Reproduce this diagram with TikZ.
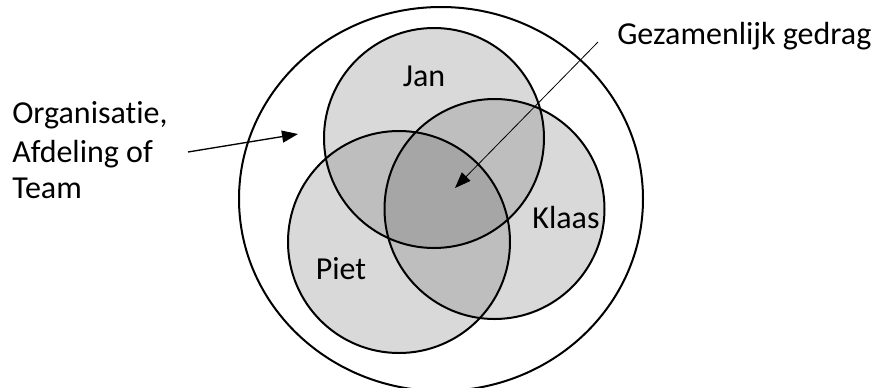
\documentclass[tikz,border=0pt]{standalone}
\usepackage{fontspec}
\setmainfont{Carlito}[Ligatures={NoCommon}]
\usetikzlibrary{arrows.meta,shapes.geometric}
\definecolor{gone}{HTML}{D9D9D9}
\definecolor{gtwo}{HTML}{BEBEBE}
\definecolor{gthree}{HTML}{A6A6A6}
\begin{document}
\begin{tikzpicture}[x=0.75pt,y=-0.75pt,
  person/.style={circle,draw=black,line width=1.5pt,inner sep=0pt},
  outer/.style={ellipse,draw=black,line width=1.5pt,inner sep=0pt,minimum width=303pt,minimum height=288pt},
  lbl/.style={font=\fontsize{24}{29}\selectfont,inner sep=0pt},
  arr/.style={-{Triangle[length=12pt,width=9pt]},line width=0.8pt}]
\useasboundingbox (0,0) rectangle (872,387);
\node[outer] (org) at (441,199) {};
\coordinate (cj) at (434,138);
\coordinate (ck) at (494.5,209);
\coordinate (cp) at (399,242);
% fills
\fill[gone] (cj) circle[radius=82.5pt] (ck) circle[radius=82.5pt] (cp) circle[radius=83.25pt];
\begin{scope}
  \clip (cj) circle[radius=82.5pt];
  \fill[gtwo] (ck) circle[radius=82.5pt] (cp) circle[radius=83.25pt];
\end{scope}
\begin{scope}
  \clip (ck) circle[radius=82.5pt];
  \fill[gtwo] (cp) circle[radius=83.25pt];
\end{scope}
\begin{scope}
  \clip (cj) circle[radius=82.5pt];
  \clip (ck) circle[radius=82.5pt];
  \fill[gthree] (cp) circle[radius=83.25pt];
\end{scope}
% outlines
\node[person,minimum size=165pt] (jan) at (cj) {};
\node[person,minimum size=165pt] (klaas) at (ck) {};
\node[person,minimum size=166.5pt] (piet) at (cp) {};
\node[lbl,anchor=base] (janlbl) at (424,86) {Jan};
\node[lbl,anchor=base] (klaaslbl) at (566,228) {Klaas};
\node[lbl,anchor=base] (pietlbl) at (341,279) {Piet};
\node[lbl,anchor=base west] (gez) at (617,44) {Gezamenlijk gedrag};
\node[lbl,anchor=base west] (org1) at (12,123) {Organisatie,};
\node[lbl,anchor=base west] (org2) at (12,162) {Afdeling of};
\node[lbl,anchor=base west] (org3) at (12,198) {Team};
\coordinate (gezstart) at (598,42);
\coordinate (geztip) at (455,188);
\coordinate (orgstart) at (188,152);
\coordinate (orgtip) at (298,134);
\draw[arr,line width=0.6pt] (gezstart) -- (geztip);
\draw[arr,line width=1pt] (orgstart) -- (orgtip);
\end{tikzpicture}
\end{document}
